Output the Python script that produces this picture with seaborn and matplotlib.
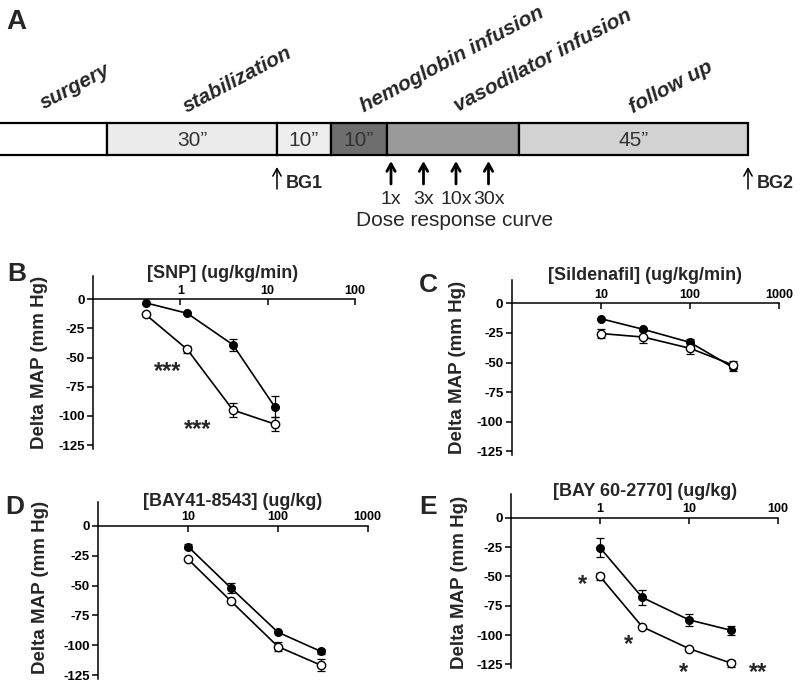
import numpy as np
import pandas as pd
import matplotlib
matplotlib.use('Agg')
import matplotlib.pyplot as plt
from matplotlib.ticker import NullLocator
import seaborn as sns

# ---- panel A: protocol timeline ----
phase_names = ['surgery', 'stabilization', 'hemoglobin infusion', 'vasodilator infusion', 'follow up']
segment_lengths = [110, 170, 54, 56, 132, 229]
segment_texts = ['', '30\u201d', '10\u201d', '10\u201d', '', '45\u201d']
segment_colors = ['#ffffff', '#ebebeb', '#eeeeee', '#6e6e6e', '#9a9a9a', '#d2d2d2']
dose_steps = ['1x', '3x', '10x', '30x']
blood_gas = ['BG1', 'BG2']

# ---- panels B-E: dose response (delta MAP, mm Hg) ----
snp_dose = [0.4, 1.2, 4, 12]
snp_filled = [-3, -12, -39, -92]
snp_filled_err = [0, 0, 5, 9]
snp_open = [-13, -43, -95, -107]
snp_open_err = [0, 3, 6, 6]

sil_dose = [10, 30, 100, 300]
sil_filled = [-13, -22, -33, -54]
sil_filled_err = [0, 0, 3, 3]
sil_open = [-25.5, -28.5, -38, -52]
sil_open_err = [4, 5, 5, 3]

bay41_dose = [10, 30, 100, 300]
bay41_filled = [-17.5, -52, -89, -105]
bay41_filled_err = [2, 4, 0, 2]
bay41_open = [-28, -63, -101, -116.5]
bay41_open_err = [0, 0, 4, 5]

bay60_dose = [1, 3, 10, 30]
bay60_filled = [-25.5, -68, -87, -96]
bay60_filled_err = [8, 6, 5, 4]
bay60_open = [-50, -93, -111.5, -124]
bay60_open_err = [3, 0, 0, 3]

y_ticks = [0, -25, -50, -75, -100, -125]

W, H = 800, 684

sns.set_style('ticks')
plt.rcParams['font.family'] = ['Liberation Sans', 'DejaVu Sans']
plt.rcParams['axes.unicode_minus'] = False
plt.rcParams['axes.edgecolor'] = 'black'
plt.rcParams['xtick.color'] = 'black'
plt.rcParams['ytick.color'] = 'black'

fig = plt.figure(figsize=(W / 100, H / 100), dpi=100)


def ptext(x, y, s, **kw):
    fig.text(x / W, 1 - y / H, s, **kw)


def px_axes(left, top, right, bottom):
    return fig.add_axes([left / W, 1 - bottom / H, (right - left) / W, (bottom - top) / H])


# ---------------- panel A ----------------
axA = fig.add_axes([0, 1 - 235 / H, 1, 235 / H])
axA.set_xlim(0, W)
axA.set_ylim(235, 0)
axA.axis('off')

lefts = -3 + np.concatenate([[0], np.cumsum(segment_lengths)[:-1]])
axA.barh(y=139, width=segment_lengths, left=lefts, height=32,
         color=segment_colors, edgecolor='black', linewidth=1.6)
for l, w, t in zip(lefts, segment_lengths, segment_texts):
    if t:
        axA.text(l + w / 2, 140, t, ha='center', va='center', fontsize=15, color='#333333')

phase_pos = [(75, 87), (237, 80), (452, 59), (543, 61), (671, 87)]
for name, (x, y) in zip(phase_names, phase_pos):
    axA.text(x, y, name, rotation=28, ha='center', va='center',
             fontsize=15, fontweight='bold', fontstyle='italic')

# blood gas arrows
for xg, lab in zip([277, 748], blood_gas):
    axA.annotate('', xy=(xg, 167), xytext=(xg, 189),
                 arrowprops=dict(arrowstyle='->,head_length=0.45,head_width=0.25',
                                 lw=1.1, color='black', shrinkA=0, shrinkB=0, mutation_scale=12))
    axA.text(xg + 9, 183, lab, ha='left', va='center', fontsize=13, fontweight='bold')

# dose arrows
vaso_start = lefts[4]
for i, lab in enumerate(dose_steps):
    xd = vaso_start + 4 + i * 32.5
    axA.annotate('', xy=(xd, 161), xytext=(xd, 184),
                 arrowprops=dict(arrowstyle='->,head_length=0.45,head_width=0.25',
                                 lw=2, color='black', shrinkA=0, shrinkB=0, mutation_scale=12))
    axA.text(xd, 199, lab, ha='center', va='center', fontsize=14)
axA.text(455, 220, 'Dose response curve', ha='center', va='center', fontsize=15)

ptext(16, 22, 'A', ha='center', va='center', fontsize=20, fontweight='bold')


# ---------------- panels B-E ----------------
def dose_panel(ax, dose, filled, filled_err, hollow, hollow_err, xlim, xticks):
    ax.set_xscale('log')
    d = np.array(dose, dtype=float)
    for y, err in ((filled, filled_err), (hollow, hollow_err)):
        y = np.array(y, dtype=float)
        e = np.array(err, dtype=float)
        m = e > 0
        ax.errorbar(d[m], y[m], yerr=e[m], fmt='none', ecolor='black',
                    elinewidth=0.9, capsize=3, capthick=0.9, zorder=2)
    df = pd.DataFrame({'dose': list(dose) * 2,
                       'dmap': list(filled) + list(hollow),
                       'group': ['filled'] * len(dose) + ['open'] * len(dose)})
    sns.lineplot(data=df[df['group'] == 'filled'], x='dose', y='dmap', ax=ax,
                 color='black', lw=1.2, marker='o', markersize=5.5,
                 markerfacecolor='black', markeredgecolor='black', markeredgewidth=1,
                 errorbar=None, zorder=3)
    sns.lineplot(data=df[df['group'] == 'open'], x='dose', y='dmap', ax=ax,
                 color='black', lw=1.2, marker='o', markersize=6,
                 markerfacecolor='white', markeredgecolor='black', markeredgewidth=1,
                 errorbar=None, zorder=4)
    ax.set_xlabel('')
    ax.set_ylabel('')
    ax.set_xlim(*xlim)
    ax.set_ylim(-128, 20)
    ax.spines['right'].set_visible(False)
    ax.spines['bottom'].set_visible(False)
    ax.spines['top'].set_position(('data', 0))
    for s in ('top', 'left'):
        ax.spines[s].set_linewidth(1.1)
    ax.xaxis.set_ticks_position('top')
    ax.set_xticks(xticks)
    ax.set_xticklabels([f'{t:g}' for t in xticks])
    ax.xaxis.set_minor_locator(NullLocator())
    ax.tick_params(axis='x', direction='in', length=4, width=1.1, pad=2, labelsize=9)
    ax.set_yticks(y_ticks)
    ax.set_yticklabels([str(t) for t in y_ticks])
    ax.tick_params(axis='y', direction='out', length=4, width=1.1, pad=2, labelsize=9.5)
    for lab in ax.get_xticklabels() + ax.get_yticklabels():
        lab.set_fontweight('bold')


def stars(ax, x, y, s):
    ax.annotate(s, xy=(x, y), xytext=(0, -10), textcoords='offset points',
                ha='center', va='baseline', fontsize=17, fontweight='bold')


axB = px_axes(93, 276, 355, 448.5)
dose_panel(axB, snp_dose, snp_filled, snp_filled_err, snp_open, snp_open_err, (0.1, 100), [1, 10, 100])
stars(axB, 0.71, -56, '***')
stars(axB, 1.56, -105, '***')

axC = px_axes(511.7, 279.6, 779.3, 455)
dose_panel(axC, sil_dose, sil_filled, sil_filled_err, sil_open, sil_open_err, (1, 1000), [10, 100, 1000])

axD = px_axes(98.3, 501.8, 367.7, 678.9)
dose_panel(axD, bay41_dose, bay41_filled, bay41_filled_err, bay41_open, bay41_open_err, (1, 1000), [10, 100, 1000])

axE = px_axes(511, 494.2, 777.7, 667.9)
dose_panel(axE, bay60_dose, bay60_filled, bay60_filled_err, bay60_open, bay60_open_err, (0.1, 100), [1, 10, 100])
stars(axE, 0.64, -51, '*')
stars(axE, 2.1, -102, '*')
stars(axE, 8.8, -126, '*')
stars(axE, 60, -126, '**')

# panel titles, letters and y labels
titles = ['[SNP] (ug/kg/min)', '[Sildenafil] (ug/kg/min)', '[BAY41-8543] (ug/kg)', '[BAY 60-2770] (ug/kg)']
title_pos = [(223, 273), (645, 275), (233, 502), (645, 492)]
letters = ['B', 'C', 'D', 'E']
letter_pos = [(17, 274), (428, 285), (15, 507), (428, 507)]
ylab_pos = [(40, 362), (458, 367), (41, 587), (459, 582)]
for t, (x, y) in zip(titles, title_pos):
    ptext(x, y, t, ha='center', va='center', fontsize=13, fontweight='bold')
for t, (x, y) in zip(letters, letter_pos):
    ptext(x, y, t, ha='center', va='center', fontsize=19, fontweight='bold')
for x, y in ylab_pos:
    ptext(x, y, 'Delta MAP (mm Hg)', ha='center', va='center', rotation=90,
          fontsize=13.5, fontweight='bold')

fig.savefig('out.png', dpi=100)
